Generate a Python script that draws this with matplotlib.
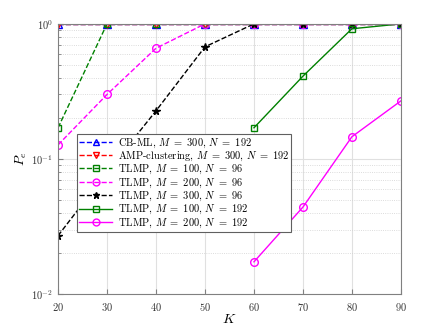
import matplotlib
matplotlib.use("Agg")
import matplotlib.pyplot as plt
from matplotlib.ticker import LogLocator, NullFormatter
import numpy as np

plt.rcParams['font.family'] = 'serif'
plt.rcParams['font.serif'] = ['cmr10']
plt.rcParams['mathtext.fontset'] = 'cm'
plt.rcParams['axes.formatter.use_mathtext'] = True

# data
K = [20, 30, 40, 50, 60, 70, 80, 90]
K_192 = [60, 70, 80, 90]
pe_cbml = [1, 1, 1, 1, 1, 1, 1, 1]
pe_amp = [1, 1, 1, 1, 1, 1, 1, 1]
pe_m100_n96 = [0.17, 1, 1, 1, 1, 1, 1, 1]
pe_m200_n96 = [0.127, 0.30, 0.66, 1, 1, 1, 1, 1]
pe_m300_n96 = [0.027, 0.08, 0.227, 0.676, 1, 1, 1, 1]
pe_m100_n192 = [0.17, 0.41, 0.92, 1]
pe_m200_n192 = [0.0173, 0.044, 0.146, 0.269]

green = '#008000'
magenta = '#ff00ff'

fig = plt.figure(figsize=(4.43, 3.27), dpi=100)
ax = fig.add_axes([0.131, 0.101, 0.774, 0.826])

lw = 1.0
ax.plot(K, pe_cbml, '--', color='blue', marker='^', mfc='none', ms=5.5, lw=lw,
        label=r'CB-ML, $M\ =\ 300,\, N\ =\ 192$')
ax.plot(K, pe_amp, '--', color='red', marker='v', mfc='none', ms=5.5, lw=lw,
        label=r'AMP-clustering, $M\ =\ 300,\, N\ =\ 192$')
ax.plot(K, pe_m100_n96, '--', color=green, marker='s', mfc='none', ms=4.5, lw=lw,
        label=r'TLMP, $M\ =\ 100,\, N\ =\ 96$')
ax.plot(K, pe_m200_n96, '--', color=magenta, marker='o', mfc='none', ms=5.5, lw=lw,
        label=r'TLMP, $M\ =\ 200,\, N\ =\ 96$')
ax.plot(K, pe_m300_n96, '--', color='black', marker='*', ms=5.5, lw=lw,
        label=r'TLMP, $M\ =\ 300,\, N\ =\ 96$')
ax.plot(K_192, pe_m100_n192, '-', color=green, marker='s', mfc='none', ms=4.5, lw=lw,
        label=r'TLMP, $M\ =\ 100,\, N\ =\ 192$')
ax.plot(K_192, pe_m200_n192, '-', color=magenta, marker='o', mfc='none', ms=5.5, lw=lw,
        label=r'TLMP, $M\ =\ 200,\, N\ =\ 192$')

ax.set_yscale('log')
ax.set_xlim(20, 90)
ax.set_ylim(1e-2, 1)
ax.set_xticks(K)
ax.yaxis.set_major_locator(LogLocator(base=10))
ax.yaxis.set_minor_locator(LogLocator(base=10, subs=np.arange(2, 10)))
ax.yaxis.set_minor_formatter(NullFormatter())

ax.grid(which='major', color='#e0e0e0', lw=0.8, ls='-')
ax.grid(which='minor', axis='y', color='#d0d0d0', lw=0.6, ls=':')
ax.set_axisbelow(True)

for s in ax.spines.values():
    s.set_color('#808080')
ax.tick_params(which='both', direction='in', colors='#808080', labelcolor='#333333',
               labelsize=7.5, top=False, right=False)
ax.tick_params(axis='x', pad=5)

ax.set_xlabel(r'$K$', fontsize=10, labelpad=0)
ax.set_ylabel(r'$P_e$', fontsize=10, labelpad=2)

leg = ax.legend(loc='lower left', bbox_to_anchor=(0.055, 0.23), fontsize=7.5,
                fancybox=False, edgecolor='#606060', framealpha=1,
                handlelength=3.2, borderpad=0.2, labelspacing=0.0, handletextpad=0.5,
                borderaxespad=0, markerscale=0.9)
leg.get_frame().set_linewidth(0.8)

fig.savefig('out.png', dpi=100)
